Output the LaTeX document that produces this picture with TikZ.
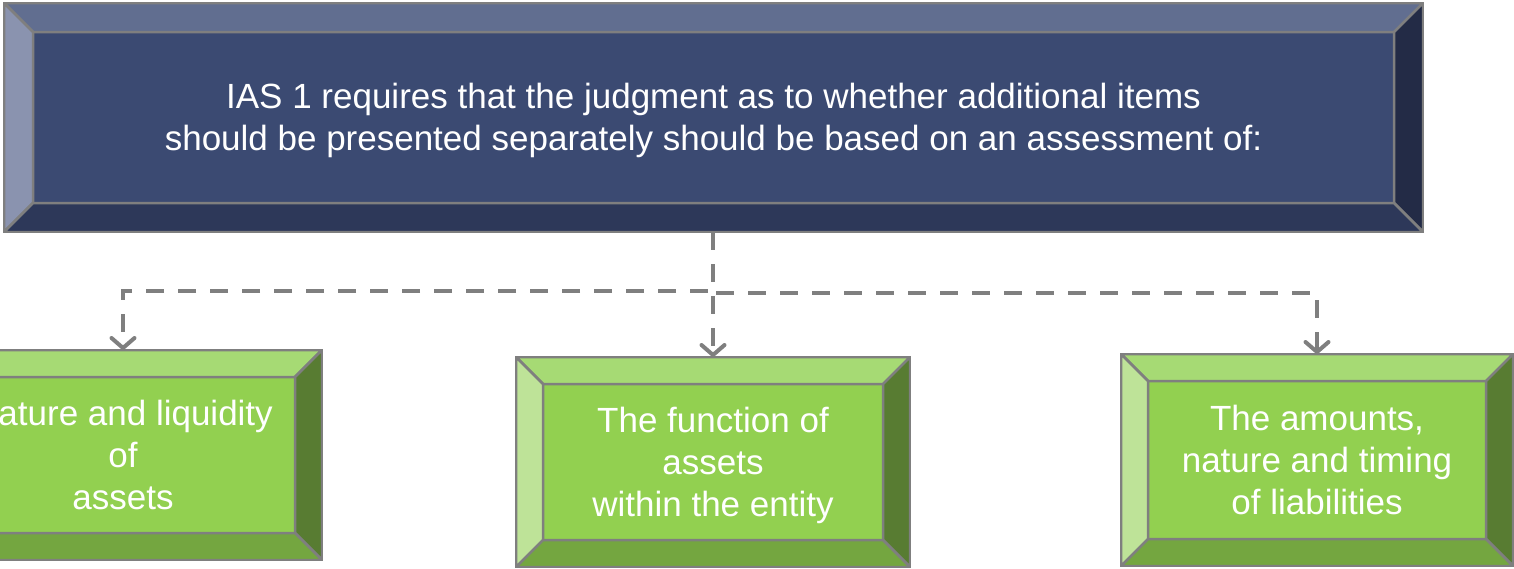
\documentclass[tikz,border=0pt]{standalone}
\usepackage{fontspec}
\setmainfont{Liberation Sans}
\usetikzlibrary{arrows.meta,calc}

\definecolor{linegray}{HTML}{7F7F7F}
% navy bevel faces
\definecolor{navyC}{HTML}{3B4A72}
\definecolor{navyT}{HTML}{616E90}
\definecolor{navyL}{HTML}{8A93AF}
\definecolor{navyR}{HTML}{232B46}
\definecolor{navyB}{HTML}{2D3859}
% green bevel faces
\definecolor{grnC}{HTML}{92D050}
\definecolor{grnT}{HTML}{A6DA74}
\definecolor{grnL}{HTML}{BEE398}
\definecolor{grnR}{HTML}{587C32}
\definecolor{grnB}{HTML}{74A640}

% draws the four slanted faces and the inner panel of a bevelled box
\newcommand\bevelfaces[5]{%
  \path (path picture bounding box.north west) coordinate (pA)
        (path picture bounding box.north east) coordinate (pB)
        (path picture bounding box.south east) coordinate (pC)
        (path picture bounding box.south west) coordinate (pD);
  \path ($(pA)+(#5pt,-#5pt)$) coordinate (qA)
        ($(pB)+(-#5pt,-#5pt)$) coordinate (qB)
        ($(pC)+(-#5pt,#5pt)$) coordinate (qC)
        ($(pD)+(#5pt,#5pt)$) coordinate (qD);
  \filldraw[facepen,fill=#1] (pA) -- (pB) -- (qB) -- (qA) -- cycle;
  \filldraw[facepen,fill=#2] (pA) -- (qA) -- (qD) -- (pD) -- cycle;
  \filldraw[facepen,fill=#3] (pB) -- (pC) -- (qC) -- (qB) -- cycle;
  \filldraw[facepen,fill=#4] (pD) -- (qD) -- (qC) -- (pC) -- cycle;
  \draw[facepen] (qA) rectangle (qC);
}

\tikzset{
  facepen/.style={draw=linegray, line width=2.5pt, line join=miter},
  bevelbox/.style n args={6}{rectangle, inner sep=0pt, outer sep=0pt,
    fill=#1, draw=linegray, line width=2.5pt, text=white, align=center,
    font=\fontsize{35}{42}\selectfont, text depth=7.4pt,
    path picture={\bevelfaces{#2}{#3}{#4}{#5}{#6}}},
  twolines/.style={text height=73.7pt},
  threelines/.style={text height=115.7pt},
  navybox/.style={bevelbox={navyC}{navyT}{navyL}{navyR}{navyB}{29}, twolines},
  greenbox/.style={bevelbox={grnC}{grnT}{grnL}{grnR}{grnB}{27}, threelines},
  conn/.style={draw=linegray, line width=4pt, dash pattern=on 18pt off 14pt,
    -{Straight Barb[length=10pt,width=23pt,round]}}
}

\begin{document}
\begin{tikzpicture}[x=1pt,y=-1pt]
\useasboundingbox (0,0) rectangle (1514,568);
\clip (0,0) rectangle (1514,568);

\node[navybox, minimum width=1419pt, minimum height=229pt] (top) at (713.5,117.5)
  {IAS 1 requires that the judgment as to whether additional items\\
   should be presented separately should be based on an assessment of:};

\node[greenbox, minimum width=398pt, minimum height=210pt] (left) at (123,455)
  {Nature and liquidity\\of\\assets};
\node[greenbox, minimum width=394pt, minimum height=210pt] (mid) at (713,462)
  {The function of\\assets\\within the entity};
\node[greenbox, minimum width=392pt, minimum height=212pt] (right) at (1317,460)
  {The amounts,\\nature and timing\\of liabilities};

\coordinate (fork) at (top.south -| mid.north);
\draw[conn] (fork) -- (mid.north);
\draw[conn] (fork) -- ++(0,59) -| (left.north);
\draw[conn] (fork) -- ++(0,61) -| (right.north);
\end{tikzpicture}
\end{document}
